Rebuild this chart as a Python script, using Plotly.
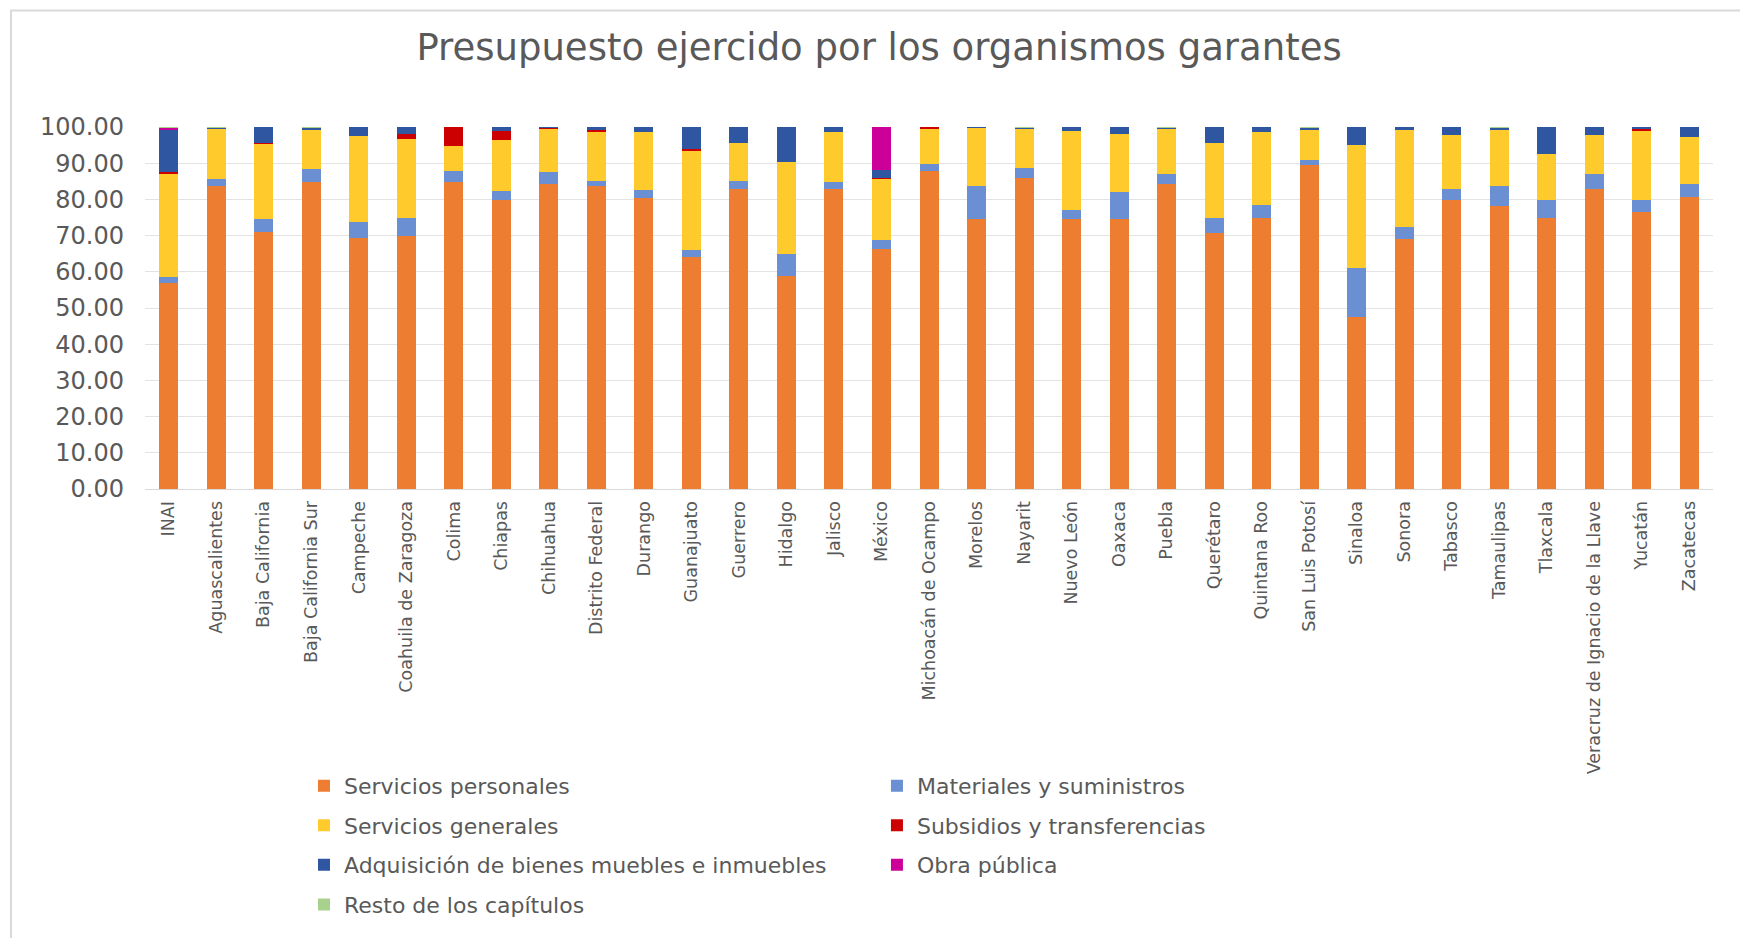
import plotly.graph_objects as go

# organismos garantes (eje x)
organismos = [
    "INAI", "Aguascalientes", "Baja California", "Baja California Sur", "Campeche",
    "Coahuila de Zaragoza", "Colima", "Chiapas", "Chihuahua", "Distrito Federal",
    "Durango", "Guanajuato", "Guerrero", "Hidalgo", "Jalisco", "México",
    "Michoacán de Ocampo", "Morelos", "Nayarit", "Nuevo León", "Oaxaca", "Puebla",
    "Querétaro", "Quintana Roo", "San Luis Potosí", "Sinaloa", "Sonora", "Tabasco",
    "Tamaulipas", "Tlaxcala", "Veracruz de Ignacio de la Llave", "Yucatán", "Zacatecas",
]

# porcentaje del presupuesto ejercido por capítulo
servicios_personales = [57.0, 83.8, 70.9, 84.8, 69.4, 69.8, 84.8, 79.8, 84.2, 83.8,
                        80.3, 64.1, 82.9, 58.8, 82.9, 66.3, 87.9, 74.7, 86.0, 74.7,
                        74.7, 84.2, 70.7, 74.8, 89.5, 47.4, 69.1, 79.8, 78.1, 74.8,
                        82.9, 76.6, 80.6]
materiales = [1.5, 1.9, 3.6, 3.7, 4.4, 5.0, 3.1, 2.5, 3.5, 1.3,
              2.3, 1.8, 2.2, 6.1, 1.9, 2.5, 1.9, 9.1, 2.8, 2.3,
              7.3, 2.8, 4.1, 3.7, 1.4, 13.6, 3.2, 3.1, 5.7, 5.0,
              4.0, 3.2, 3.6]
servicios_generales = [28.4, 14.0, 20.9, 10.8, 23.7, 22.0, 6.8, 14.1, 11.8, 13.4,
                       16.1, 27.7, 10.6, 25.3, 13.7, 16.9, 9.9, 16.1, 10.9, 21.8,
                       16.0, 12.7, 20.8, 20.0, 8.4, 34.1, 26.8, 15.0, 15.5, 12.8,
                       11.0, 19.1, 13.1]
subsidios = [0.7, 0, 0.3, 0, 0, 1.2, 5.3, 2.4, 0.4, 0.8,
             0, 0.3, 0, 0, 0, 0.3, 0.3, 0, 0, 0,
             0, 0, 0, 0, 0, 0, 0, 0, 0, 0,
             0, 0.6, 0]
adquisicion = [11.5, 0.1, 4.3, 0.5, 2.5, 2.0, 0, 1.2, 0.1, 0.7,
               1.3, 6.1, 4.3, 9.8, 1.5, 2.2, 0, 0.1, 0.1, 1.2,
               2.0, 0.1, 4.4, 1.5, 0.5, 4.9, 0.9, 2.1, 0.5, 7.4,
               2.1, 0.5, 2.7]
obra_publica = [0.7, 0, 0, 0, 0, 0, 0, 0, 0, 0,
                0, 0, 0, 0, 0, 11.8, 0, 0, 0, 0,
                0, 0, 0, 0, 0, 0, 0, 0, 0, 0,
                0, 0, 0]
resto = [0.2, 0.2, 0, 0.2, 0, 0, 0, 0, 0, 0,
         0, 0, 0, 0, 0, 0, 0, 0, 0.2, 0,
         0, 0.2, 0, 0, 0.2, 0, 0, 0, 0.2, 0,
         0, 0, 0]

series = [
    ("Servicios personales", servicios_personales, "#ED7D31", "legend"),
    ("Materiales y suministros", materiales, "#6A8FD2", "legend2"),
    ("Servicios generales", servicios_generales, "#FFCA2C", "legend"),
    ("Subsidios y transferencias", subsidios, "#CC0000", "legend2"),
    ("Adquisición de bienes muebles e inmuebles", adquisicion, "#2F56A0", "legend"),
    ("Obra pública", obra_publica, "#CC0099", "legend2"),
    ("Resto de los capítulos", resto, "#A9D18E", "legend"),
]

gray = "#595959"

fig = go.Figure()
for name, vals, color, leg in series:
    fig.add_trace(go.Bar(
        x=organismos, y=vals, name=name,
        marker=dict(color=color, line=dict(width=0)),
        legend=leg, legendgroup=name,
    ))

# la página tiene 8px de margen, así que la figura es algo menor que la ventana
fig.update_layout(
    width=1740, height=930,
    barmode="stack",
    bargap=0.6,
    plot_bgcolor="white",
    paper_bgcolor="white",
    font=dict(family="DejaVu Sans", color=gray),
    title=dict(text="Presupuesto ejercido por los organismos garantes",
               x=0.5006, xanchor="center", y=0.958, yanchor="middle",
               font=dict(size=37, color=gray)),
    margin=dict(l=137, r=35, t=119, b=445),
    xaxis=dict(tickangle=-90, tickfont=dict(size=17.5, color=gray),
               showline=True, linecolor="#D9D9D9", linewidth=1, ticks="",
               ticklabelstandoff=4),
    yaxis=dict(range=[0, 100], dtick=10, tickformat=".2f",
               tickfont=dict(size=24, color=gray), showgrid=True,
               gridcolor="#E3E3E3", gridwidth=1, zeroline=False, ticks="",
               ticklabelstandoff=20),
    legend=dict(orientation="v", x=0.1014, xanchor="left", y=-0.762, yanchor="top",
                font=dict(size=22, color=gray), tracegroupgap=8,
                bgcolor="rgba(0,0,0,0)"),
    legend2=dict(orientation="v", x=0.4668, xanchor="left", y=-0.762, yanchor="top",
                 font=dict(size=22, color=gray), tracegroupgap=8,
                 bgcolor="rgba(0,0,0,0)"),
    showlegend=True,
)

# marco gris del gráfico
fig.add_shape(type="rect", xref="paper", yref="paper",
              x0=-0.0855, x1=1.0217, y0=-1.3, y1=1.322,
              line=dict(color="#D9D9D9", width=2), layer="below")

fig.write_html("out.html")
